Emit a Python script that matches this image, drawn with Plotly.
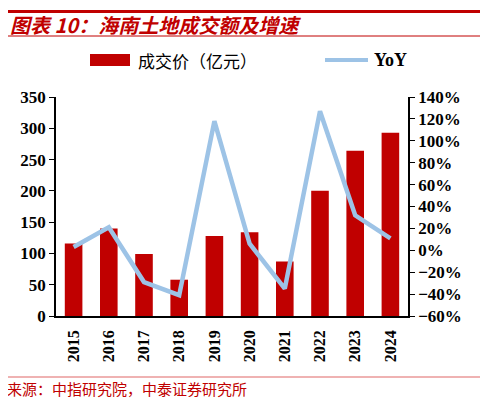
import plotly.graph_objects as go

# 数据
years = ['2015', '2016', '2017', '2018', '2019', '2020', '2021', '2022', '2023', '2024']
deal_value = [116, 140, 99, 58, 128, 134, 87, 200, 264, 293]   # 成交价（亿元）
yoy = [3, 21, -29, -41, 118, 6, -35, 127, 32, 11]              # YoY (%)

# The page body has an 8px margin, so the figure is drawn 8px smaller
OFF = 8
W, H = 488 - OFF, 400 - OFF
L, R, T, B = 48, 80, 89, 84
pw = W - L - R
ph = H - T - B


# reference pixel -> paper coords
def px(x):
    return (x - OFF - L) / pw


def py(y):
    return (H - B - (y - OFF)) / ph


red = '#C00000'
blue = '#9DC3E6'
serif = 'Liberation Serif'
cjk = 'Noto Sans CJK SC'

fig = go.Figure()

fig.add_trace(go.Bar(x=years, y=deal_value, name='成交价（亿元）',
                     marker=dict(color=red, line=dict(width=0)), width=0.5))

fig.add_trace(go.Scatter(x=years, y=yoy, name='YoY', yaxis='y2', mode='lines',
                         line=dict(color=blue, width=4.5)))

tick_font = dict(family=serif, size=17, color='black', weight='bold')

fig.update_layout(
    width=W, height=H,
    margin=dict(l=L, r=R, t=T, b=B),
    paper_bgcolor='white', plot_bgcolor='white',
    showlegend=False,
    xaxis=dict(type='category', showline=True, linecolor='black', linewidth=1.5,
               ticks='', tickangle=-90, showgrid=False, ticklabelstandoff=6,
               tickfont=dict(family=serif, size=16, color='black', weight='bold')),
    yaxis=dict(range=[0, 350], dtick=50, showline=True, linecolor='black', linewidth=1.5,
               ticks='outside', ticklen=5, tickcolor='black', showgrid=False, zeroline=False,
               tickfont=tick_font),
    yaxis2=dict(range=[-60, 140], dtick=20, ticksuffix='%', overlaying='y', side='right',
                showline=True, linecolor='black', linewidth=1.5,
                ticks='outside', ticklen=5, tickcolor='black', showgrid=False, zeroline=False,
                tickfont=tick_font),
)

# Header / footer rules and manual legend swatches
shapes = [
    dict(type='rect', xref='paper', yref='paper', x0=px(8), x1=px(483), y0=py(13), y1=py(10),
         fillcolor=red, line=dict(width=0), layer='above'),
    dict(type='line', xref='paper', yref='paper', x0=px(8), x1=px(483), y0=py(36), y1=py(36),
         line=dict(color=red, width=1)),
    dict(type='line', xref='paper', yref='paper', x0=px(8), x1=px(483), y0=py(377), y1=py(377),
         line=dict(color='#E06666', width=1.2)),
    dict(type='rect', xref='paper', yref='paper', x0=px(90), x1=px(130), y0=py(66), y1=py(54),
         fillcolor=red, line=dict(width=0)),
    dict(type='line', xref='paper', yref='paper', x0=px(325), x1=px(368), y0=py(60), y1=py(60),
         line=dict(color=blue, width=4)),
]
fig.update_layout(shapes=shapes)

fig.add_annotation(x=px(8), y=py(24), xref='paper', yref='paper', xanchor='left', yanchor='middle',
                   text='图表 10：海南土地成交额及增速', showarrow=False,
                   font=dict(family=cjk, size=20, color=red, style='italic', weight='bold'))
fig.add_annotation(x=px(136), y=py(60), xref='paper', yref='paper', xanchor='left', yanchor='middle',
                   text='成交价（亿元）', showarrow=False,
                   font=dict(family=cjk, size=17, color='black'))
fig.add_annotation(x=px(372), y=py(60), xref='paper', yref='paper', xanchor='left', yanchor='middle',
                   text='YoY', showarrow=False,
                   font=dict(family=serif, size=18, color='black', weight='bold'))
fig.add_annotation(x=px(5), y=py(388), xref='paper', yref='paper', xanchor='left', yanchor='middle',
                   text='来源：中指研究院，中泰证券研究所', showarrow=False,
                   font=dict(family=cjk, size=15, color=red))

fig.write_html("out.html")
